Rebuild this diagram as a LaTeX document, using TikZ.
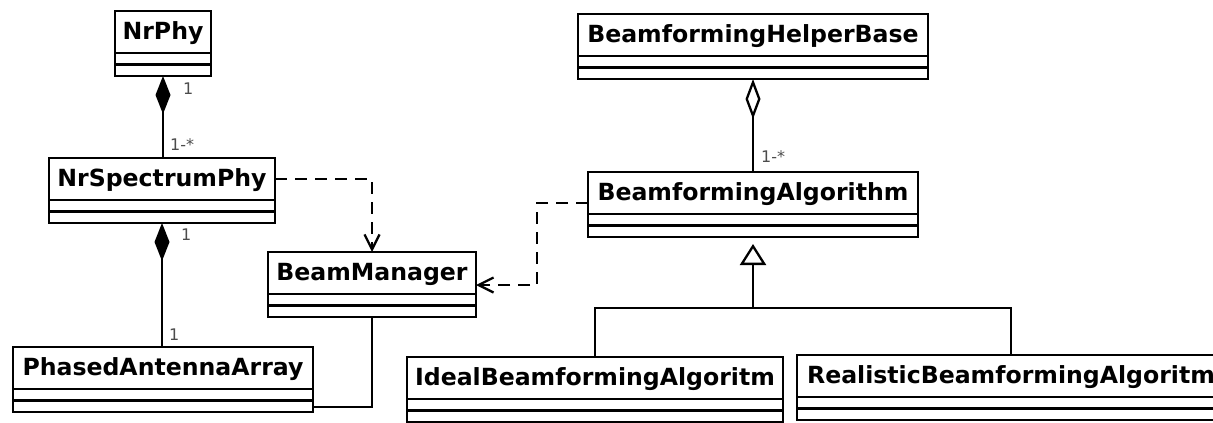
\documentclass[tikz,border=0pt]{standalone}
\usepackage{fontspec}
\usetikzlibrary{arrows.meta}
\newfontfamily\clsfont{DejaVu Sans}
\tikzset{>=stealth,
  cls/.style={draw,line width=2.2pt,anchor=north west,inner sep=0pt,outer sep=0pt,
    minimum height=65pt,text height=28pt,text depth=37pt,
    font=\clsfont\bfseries\fontsize{23.6pt}{25pt}\selectfont},
  conn/.style={line width=2.3pt},
  dep/.style={conn,dash pattern=on 12pt off 8pt,-{Straight Barb[length=15pt,width=15pt]}},
  mult/.style={font=\clsfont\fontsize{16pt}{18pt}\selectfont,text=black!70,inner sep=0pt}}

\begin{document}
\begin{tikzpicture}[x=1pt,y=-1pt]
\useasboundingbox (0,0) rectangle (1213,423);
\node[cls,minimum width=96pt] (phy) at (115,11) {NrPhy};
\node[cls,minimum width=226pt] (sphy) at (49,158) {NrSpectrumPhy};
\node[cls,minimum width=300pt] (array) at (13,347) {PhasedAntennaArray};
\node[cls,minimum width=208pt] (bm) at (268,252) {BeamManager};
\node[cls,minimum width=350pt] (helper) at (578,14) {BeamformingHelperBase};
\node[cls,minimum width=330pt] (algo) at (588,172) {BeamformingAlgorithm};
\node[cls,minimum width=376pt] (ideal) at (407,357) {IdealBeamformingAlgoritm};
\node[cls,minimum width=428pt] (real) at (797,355) {RealisticBeamformingAlgoritm};
\foreach \c in {phy,sphy,array,bm,helper,algo,ideal,real}
  \draw[line width=2.2pt] ([yshift=-42pt]\c.north west) -- ([yshift=-42pt]\c.north east)
    ([yshift=-53.5pt]\c.north west) -- ([yshift=-53.5pt]\c.north east);
\draw[conn,{Diamond[length=38pt,width=15pt]}-] (phy.south) -- (phy.south |- sphy.north)
  node[mult,pos=0,anchor=west,xshift=19pt,yshift=-13pt] {1}
  node[mult,pos=1,anchor=west,xshift=6pt,yshift=13pt] {1-*};
\draw[conn,{Diamond[length=38pt,width=15pt]}-] (sphy.south) -- (sphy.south |- array.north)
  node[mult,pos=0,anchor=west,xshift=18pt,yshift=-12pt] {1}
  node[mult,pos=1,anchor=west,xshift=6pt,yshift=12pt] {1};
\draw[conn,{Diamond[open,length=40pt,width=15pt]}-] (helper.south) -- (helper.south |- algo.north)
  node[mult,pos=1,anchor=west,xshift=7pt,yshift=15pt] {1-*};
\draw[dep] ([yshift=-21pt]sphy.north east) -| (bm.north);
\draw[dep] ([yshift=-31pt]algo.north west) -- ++(-51,0) |- ([yshift=-33pt]bm.north east);
\draw[conn] (bm.south) |- ([yshift=-60pt]array.north east);
\draw[conn] (ideal.north) -- ++(0,-49) -| (real.north);
\draw[conn,-{Triangle[open,length=21pt,width=26pt]},shorten >=7pt] (algo.south |- 0,308) -- (algo.south);
\end{tikzpicture}
\end{document}
